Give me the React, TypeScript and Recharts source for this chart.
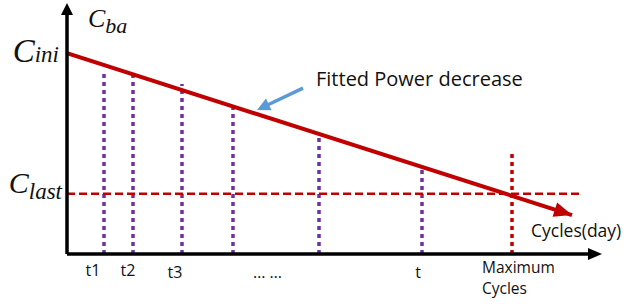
import {
  ComposedChart,
  Line,
  XAxis,
  YAxis,
  ReferenceLine,
  ReferenceDot,
} from "recharts";

// capacity values on the C_ba axis
const cIni = 80;
const cLast = 24;

// fitted power decrease, start and end of the red arrow
const fitted = [
  { cycle: 0, cba: 80 },
  { cycle: 101, cba: 15.5 },
];

// sampled cycles (purple dotted lines) and where they meet the fit
const sampleCycles = [7.4, 13.2, 23, 33.2, 50.4, 71];
const sampleTops = [72.5, 72.5, 67.7, 58.2, 46.6, 34.7];

const maxCycles = 89;
const maxTop = 40.6;
const lastLineEnd = 103;

const xEnd = 107;
const yEnd = 100;

// x tick labels
const tickLabels = [["t1"], ["t2"], ["t3"], ["… …"], ["t"], ["Maximum", "Cycles"]];
const tickAt = [5.2, 12.2, 21.6, 40.1, 70.2, 83];

// callout arrow
const pointer = [
  { cycle: 47.2, cba: 66.1 },
  { cycle: 38, cba: 57.4 },
];

const RED = "#c00000";
const PURPLE = "#7030a0";
const BLUE = "#5b9bd5";
const SANS = "'Open Sans', sans-serif";
const SERIF = "'Liberation Serif', 'Times New Roman', serif";

function arrow(color: string, width: number, headLen: number, headHalf: number, drawLine = true) {
  return (p: any) => {
    const { x1, y1, x2, y2 } = p;
    const dx = x2 - x1;
    const dy = y2 - y1;
    const len = Math.sqrt(dx * dx + dy * dy) || 1;
    const ux = dx / len;
    const uy = dy / len;
    const bx = x2 - ux * headLen;
    const by = y2 - uy * headLen;
    const pts = [
      `${x2},${y2}`,
      `${bx - uy * headHalf},${by + ux * headHalf}`,
      `${bx + uy * headHalf},${by - ux * headHalf}`,
    ].join(" ");
    return (
      <g>
        {drawLine ? (
          <line x1={x1} y1={y1} x2={bx + ux * 2} y2={by + uy * 2} stroke={color} strokeWidth={width} />
        ) : null}
        <polygon points={pts} fill={color} />
      </g>
    );
  };
}

const XTick = (props: any) => {
  const { x, y, payload } = props;
  const i = tickAt.indexOf(payload.value);
  if (i < 0) return null;
  const lines = tickLabels[i];
  if (lines.length > 1) {
    return (
      <text x={x} y={y} fontFamily={SANS} fontSize={15.5} fill="#111" textAnchor="start">
        <tspan x={x} dy={19}>{lines[0]}</tspan>
        <tspan x={x} dy={21}>{lines[1]}</tspan>
      </text>
    );
  }
  const dy = i < 2 ? 22 : 24;
  return (
    <text x={x} y={y + dy} fontFamily={SANS} fontSize={16} fill="#111" textAnchor="middle">
      {lines[0]}
    </text>
  );
};

const YTick = (props: any) => {
  const { x, y, payload } = props;
  if (payload.value === cIni) {
    return (
      <text x={x - 8} y={y + 9} fontFamily={SERIF} fontStyle="italic" fill="#111" textAnchor="end">
        <tspan fontSize={33}>C</tspan>
        <tspan fontSize={23}>ini</tspan>
      </text>
    );
  }
  return (
    <text x={x - 5} y={y - 1} fontFamily={SERIF} fontStyle="italic" fill="#111" textAnchor="end">
      <tspan fontSize={30}>C</tspan>
      <tspan fontSize={23} dy={6}>last</tspan>
    </text>
  );
};

export default function App() {
  return (
    <div style={{ position: "absolute", left: 0, top: 0, background: "#fff" }}>
      <ComposedChart width={624} height={304} margin={{ top: 3, right: 22, bottom: 0, left: 0 }}>
        <XAxis
          type="number"
          dataKey="cycle"
          domain={[0, xEnd]}
          ticks={tickAt}
          interval={0}
          axisLine={false}
          tickLine={false}
          tickSize={0}
          tickMargin={0}
          height={50}
          tick={<XTick />}
          allowDataOverflow
        />
        <YAxis
          type="number"
          domain={[0, yEnd]}
          ticks={[cLast, cIni]}
          interval={0}
          axisLine={false}
          tickLine={false}
          tickSize={0}
          tickMargin={0}
          width={67}
          tick={<YTick />}
          allowDataOverflow
        />

        {sampleCycles.map((c, i) => (
          <ReferenceLine
            key={c}
            segment={[
              { x: c, y: 0 },
              { x: c, y: sampleTops[i] },
            ]}
            stroke={PURPLE}
            strokeWidth={3.5}
            strokeDasharray="4 4"
          />
        ))}
        <ReferenceLine
          segment={[
            { x: maxCycles, y: 0 },
            { x: maxCycles, y: maxTop },
          ]}
          stroke={RED}
          strokeWidth={3.5}
          strokeDasharray="4 4"
        />
        <ReferenceLine
          segment={[
            { x: 0, y: cLast },
            { x: lastLineEnd, y: cLast },
          ]}
          stroke={RED}
          strokeWidth={2.5}
          strokeDasharray="8 4"
        />

        <Line
          data={fitted}
          dataKey="cba"
          stroke={RED}
          strokeWidth={4}
          dot={false}
          activeDot={false}
          isAnimationActive={false}
        />
        <ReferenceLine
          segment={[
            { x: fitted[0].cycle, y: fitted[0].cba },
            { x: fitted[1].cycle, y: fitted[1].cba },
          ]}
          shape={arrow(RED, 4, 18, 7.5, false)}
        />

        <ReferenceLine
          segment={[
            { x: pointer[0].cycle, y: pointer[0].cba },
            { x: pointer[1].cycle, y: pointer[1].cba },
          ]}
          shape={arrow(BLUE, 3.5, 13, 6.5)}
        />

        {/* axes with arrow heads */}
        <ReferenceLine
          segment={[
            { x: 0, y: 0 },
            { x: 0, y: yEnd },
          ]}
          shape={arrow("#000", 3.5, 12, 6)}
        />
        <ReferenceLine
          segment={[
            { x: 0, y: 0 },
            { x: xEnd, y: 0 },
          ]}
          shape={arrow("#000", 3.5, 14, 6)}
        />

        <ReferenceDot
          x={4.2}
          y={90.4}
          r={0}
          shape={(p: any) => (
            <text x={p.cx} y={p.cy} fontFamily={SERIF} fontStyle="italic" fill="#111">
              <tspan fontSize={26}>C</tspan>
              <tspan fontSize={22} dy={6}>ba</tspan>
            </text>
          )}
        />
        <ReferenceDot
          x={49.8}
          y={66.9}
          r={0}
          shape={(p: any) => (
            <text x={p.cx} y={p.cy} fontFamily={SANS} fontSize={20} fill="#111">
              Fitted Power decrease
            </text>
          )}
        />
        <ReferenceDot
          x={92.8}
          y={6.8}
          r={0}
          shape={(p: any) => (
            <text x={p.cx} y={p.cy} fontFamily={SANS} fontSize={17.5} fill="#111">
              Cycles(day)
            </text>
          )}
        />
      </ComposedChart>
    </div>
  );
}
